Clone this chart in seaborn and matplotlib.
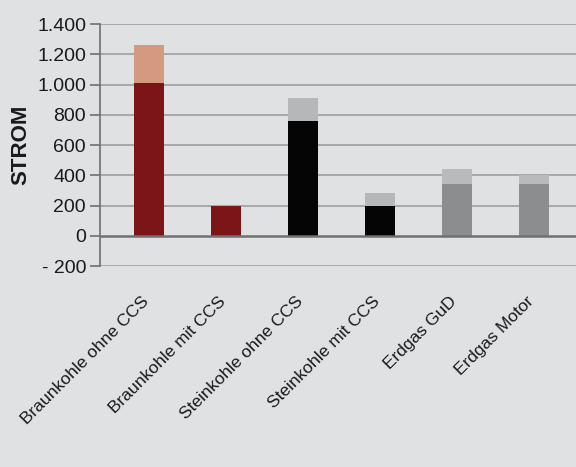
import matplotlib
matplotlib.use("Agg")
import matplotlib.pyplot as plt
import matplotlib.transforms as mtransforms
import seaborn as sns
import pandas as pd
from matplotlib import font_manager

categories = ["Braunkohle ohne CCS", "Braunkohle mit CCS", "Steinkohle ohne CCS",
              "Steinkohle mit CCS", "Erdgas GuD", "Erdgas Motor"]
base_values = [1010, 200, 760, 200, 340, 340]
total_values = [1260, 200, 910, 280, 440, 400]
base_colors = ["#7b1518", "#7b1518", "#050505", "#050505", "#8b8d8f", "#8b8d8f"]
top_colors = ["#d39a80", "#7b1518", "#b6b7b9", "#b6b7b9", "#b9babc", "#b9babc"]
yticks = [-200, 0, 200, 400, 600, 800, 1000, 1200, 1400]
ytick_labels = ["- 200", "0", "200", "400", "600", "800", "1.000", "1.200", "1.400"]

names = {f.name for f in font_manager.fontManager.ttflist}
narrow = "Liberation Sans Narrow" if "Liberation Sans Narrow" in names else "Liberation Sans"

sns.set_theme(style="white")
plt.rcParams["font.family"] = [narrow, "DejaVu Sans"]

bg = "#dfe1e3"
fig = plt.figure(figsize=(5.76, 4.67), dpi=100, facecolor=bg)
ax = fig.add_axes([0.1736, 0.4304, 0.8264, 0.5182])
ax.set_facecolor(bg)

df = pd.DataFrame({"cat": categories, "base": base_values, "total": total_values})

sns.barplot(data=df, x="cat", y="total", hue="cat", palette=top_colors,
            order=categories, hue_order=categories, width=0.39, legend=False,
            saturation=1, ax=ax, zorder=3)
sns.barplot(data=df, x="cat", y="base", hue="cat", palette=base_colors,
            order=categories, hue_order=categories, width=0.39, legend=False,
            saturation=1, ax=ax, zorder=4)
for p in ax.patches:
    p.set_edgecolor("none")

ax.set_ylim(-200, 1400)
ax.set_xlim(-0.64, 5.55)
for y in yticks:
    if y == 0:
        ax.axhline(y, color="#6e7072", lw=1.8, zorder=5)
    else:
        ax.axhline(y, color="#9c9ea0", lw=1.2, zorder=1)

ax.set_yticks(yticks)
ax.set_yticklabels(ytick_labels, fontsize=14, color="#1a1a1a")
ax.tick_params(axis="y", which="major", direction="out", length=7, width=1.2,
               color="#6e7072", pad=3, left=True)
ax.set_xticks(range(len(categories)))
ax.set_xticklabels(categories, rotation=45, ha="right", rotation_mode="anchor",
                   fontsize=12.5, color="#1a1a1a")
ax.tick_params(axis="x", length=0, pad=20)
offset = mtransforms.ScaledTranslation(-8 / 100, 0, fig.dpi_scale_trans)
for lbl in ax.get_xticklabels():
    lbl.set_transform(lbl.get_transform() + offset)

for s in ["top", "right", "bottom"]:
    ax.spines[s].set_visible(False)
ax.spines["left"].set_color("#6e7072")
ax.spines["left"].set_linewidth(1.2)

ax.set_xlabel("")
ax.set_ylabel("STROM", fontsize=16, fontweight="bold", color="#1a1a1a", labelpad=4)

fig.savefig("out.png", dpi=100, facecolor=bg)
